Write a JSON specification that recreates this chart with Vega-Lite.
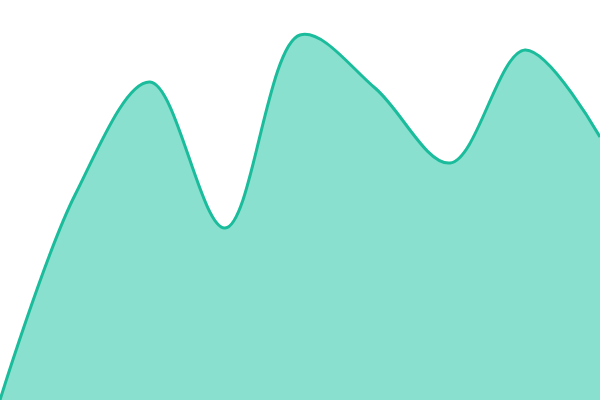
{
  "$schema": "https://vega.github.io/schema/vega-lite/v6.json",
  "width": 600,
  "height": 400,
  "autosize": {"type": "none"},
  "padding": 0,
  "background": "white",
  "config": {"view": {"stroke": null}},
  "data": {
    "values": [
      {"x": 0, "v": 0},
      {"x": 75, "v": 205},
      {"x": 150, "v": 318},
      {"x": 225, "v": 172},
      {"x": 300, "v": 365},
      {"x": 375, "v": 312},
      {"x": 450, "v": 237},
      {"x": 525, "v": 350},
      {"x": 600, "v": 263}
    ]
  },
  "mark": {
    "type": "area",
    "interpolate": "catmull-rom",
    "color": "#89e0cf",
    "opacity": 1,
    "line": {"color": "#1abc9c", "strokeWidth": 3}
  },
  "encoding": {
    "x": {"field": "x", "type": "quantitative", "axis": null, "scale": {"domain": [0, 600], "nice": false, "zero": false}},
    "y": {"field": "v", "type": "quantitative", "axis": null, "scale": {"domain": [0, 400], "nice": false}}
  }
}
